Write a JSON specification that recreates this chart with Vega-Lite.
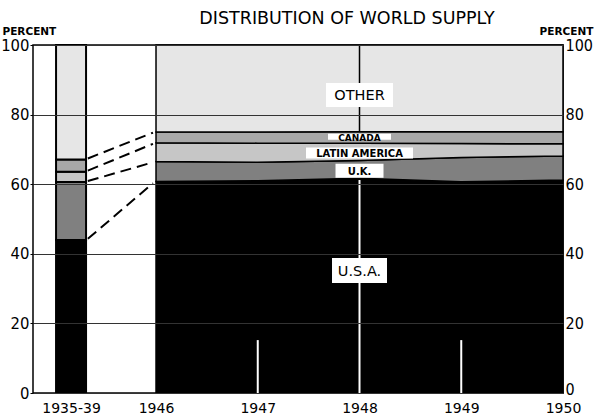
{
  "$schema": "https://vega.github.io/schema/vega-lite/v6.json",
  "width": 530,
  "height": 348,
  "autosize": "none",
  "padding": {"left": 33, "top": 45, "right": 32, "bottom": 24},
  "background": "white",
  "view": {"stroke": "black", "strokeWidth": 1.5},
  "title": {"text": "DISTRIBUTION OF WORLD SUPPLY", "font": "DejaVu Sans", "fontSize": 17.5, "fontWeight": "normal", "anchor": "middle", "dx": 49, "offset": -1, "color": "black"},
  "datasets": {
    "bar": [
      {"t": 1945.165, "region": "USA", "k": 1, "share": 44},
      {"t": 1945.165, "region": "UK", "k": 2, "share": 16.6},
      {"t": 1945.165, "region": "LatAm", "k": 3, "share": 3},
      {"t": 1945.165, "region": "Canada", "k": 4, "share": 3.5},
      {"t": 1945.165, "region": "Other", "k": 5, "share": 32.9}
    ],
    "area": [
      {"t": 1946, "region": "USA", "k": 1, "share": 60.8},
      {"t": 1946, "region": "UK", "k": 2, "share": 5.7},
      {"t": 1946, "region": "LatAm", "k": 3, "share": 5.4},
      {"t": 1946, "region": "Canada", "k": 4, "share": 3.1},
      {"t": 1946, "region": "Other", "k": 5, "share": 25},
      {"t": 1947, "region": "USA", "k": 1, "share": 61},
      {"t": 1947, "region": "UK", "k": 2, "share": 5.3},
      {"t": 1947, "region": "LatAm", "k": 3, "share": 5.5},
      {"t": 1947, "region": "Canada", "k": 4, "share": 3.2},
      {"t": 1947, "region": "Other", "k": 5, "share": 25},
      {"t": 1948, "region": "USA", "k": 1, "share": 61.7},
      {"t": 1948, "region": "UK", "k": 2, "share": 5.1},
      {"t": 1948, "region": "LatAm", "k": 3, "share": 5},
      {"t": 1948, "region": "Canada", "k": 4, "share": 3.3},
      {"t": 1948, "region": "Other", "k": 5, "share": 24.9},
      {"t": 1949, "region": "USA", "k": 1, "share": 60.7},
      {"t": 1949, "region": "UK", "k": 2, "share": 7},
      {"t": 1949, "region": "LatAm", "k": 3, "share": 4},
      {"t": 1949, "region": "Canada", "k": 4, "share": 3.4},
      {"t": 1949, "region": "Other", "k": 5, "share": 24.9},
      {"t": 1950, "region": "USA", "k": 1, "share": 61.2},
      {"t": 1950, "region": "UK", "k": 2, "share": 6.9},
      {"t": 1950, "region": "LatAm", "k": 3, "share": 3.5},
      {"t": 1950, "region": "Canada", "k": 4, "share": 3.5},
      {"t": 1950, "region": "Other", "k": 5, "share": 24.9}
    ],
    "links": [
      {"seg": "a", "t": 1945.33, "v": 44.3},
      {"seg": "a", "t": 1945.97, "v": 60.3},
      {"seg": "b", "t": 1945.33, "v": 60.9},
      {"seg": "b", "t": 1945.97, "v": 66.3},
      {"seg": "c", "t": 1945.33, "v": 63.9},
      {"seg": "c", "t": 1945.97, "v": 71.6},
      {"seg": "d", "t": 1945.33, "v": 67.4},
      {"seg": "d", "t": 1945.97, "v": 74.8}
    ],
    "whiteRules": [
      {"t": 1947, "v": 0, "v2": 15.2},
      {"t": 1948, "v": 0, "v2": 61.2},
      {"t": 1949, "v": 0, "v2": 15.2}
    ],
    "blackRules": [
      {"t": 1948, "v": 75.2, "v2": 100}
    ],
    "labels": [
      {"label": "OTHER", "t": 1948, "v": 85.6},
      {"label": "CANADA", "t": 1948, "v": 73.6},
      {"label": "LATIN AMERICA", "t": 1948, "v": 69.0},
      {"label": "U.K.", "t": 1948, "v": 63.9},
      {"label": "U.S.A.", "t": 1948, "v": 35.2}
    ]
  },
  "encoding": {
    "x": {"field": "t", "type": "quantitative", "title": null,
      "scale": {"domain": [1944.791, 1950], "nice": false, "zero": false, "padding": 0},
      "axis": {"values": [1945.165, 1946, 1947, 1948, 1949, 1950], "labelExpr": "datum.value < 1945.5 ? '1935-39' : format(datum.value, 'd')", "tickSize": 0, "domain": false, "grid": false, "labelFont": "DejaVu Sans", "labelFontSize": 14, "labelColor": "black", "labelPadding": 8, "labelFlush": false, "labelOverlap": false}}
  },
  "resolve": {"axis": {"y": "independent"}},
  "layer": [
    {
      "data": {"name": "bar"},
      "mark": {"type": "bar", "width": 30, "stroke": "black", "strokeWidth": 2},
      "encoding": {
        "y": {"field": "share", "type": "quantitative", "stack": "zero", "title": "PERCENT",
          "scale": {"domain": [0, 100], "nice": false},
          "axis": {"orient": "left", "values": [0, 20, 40, 60, 80, 100], "grid": true, "gridColor": "#333", "gridWidth": 1, "domain": false, "tickSize": 3, "tickColor": "black", "labelFont": "DejaVu Sans Condensed", "labelFontSize": 16.5, "labelColor": "black", "labelPadding": 1, "zindex": 1,
            "titleAngle": 0, "titleX": -31, "titleY": -14, "titleAlign": "left", "titleBaseline": "middle", "titleFont": "DejaVu Sans", "titleFontSize": 10.5, "titleFontWeight": "bold", "titleColor": "black"}},
        "color": {"field": "region", "type": "nominal", "legend": null,
          "scale": {"domain": ["USA", "UK", "LatAm", "Canada", "Other"], "range": ["#000000", "#808080", "#c6c6c6", "#a8a8a8", "#e6e6e6"]}},
        "order": {"field": "k", "type": "quantitative"}
      }
    },
    {
      "data": {"name": "area"},
      "mark": {"type": "area", "stroke": "black", "strokeWidth": 1.5, "opacity": 1},
      "encoding": {
        "y": {"field": "share", "type": "quantitative", "stack": "zero", "title": "PERCENT",
          "scale": {"domain": [0, 100], "nice": false},
          "axis": {"orient": "right", "values": [0, 20, 40, 60, 80, 100], "grid": false, "domain": false, "tickSize": 0, "labelFont": "DejaVu Sans Condensed", "labelFontSize": 16, "labelColor": "black", "labelPadding": 2, "zindex": 1,
            "labelOffset": {"condition": {"test": "datum.value === 0", "value": -4}, "value": 0},
            "titleAngle": 0, "titleX": 3, "titleY": -14, "titleAlign": "center", "titleBaseline": "middle", "titleFont": "DejaVu Sans", "titleFontSize": 10.5, "titleFontWeight": "bold", "titleColor": "black"}},
        "color": {"field": "region", "type": "nominal", "legend": null},
        "order": {"field": "k", "type": "quantitative"}
      }
    },
    {
      "data": {"name": "links"},
      "mark": {"type": "line", "color": "black", "strokeWidth": 2, "strokeDash": [11, 6]},
      "encoding": {
        "y": {"field": "v", "type": "quantitative", "axis": null},
        "detail": {"field": "seg"}
      }
    },
    {
      "data": {"name": "whiteRules"},
      "mark": {"type": "rule", "color": "white", "strokeWidth": 2},
      "encoding": {
        "y": {"field": "v", "type": "quantitative", "axis": null},
        "y2": {"field": "v2"}
      }
    },
    {
      "data": {"name": "blackRules"},
      "mark": {"type": "rule", "color": "black", "strokeWidth": 1.5},
      "encoding": {
        "y": {"field": "v", "type": "quantitative", "axis": null},
        "y2": {"field": "v2"}
      }
    },
    {
      "data": {"name": "labels"},
      "mark": {"type": "point", "filled": true, "size": 4, "color": "white", "opacity": 1, "strokeWidth": 0},
      "encoding": {
        "y": {"field": "v", "type": "quantitative", "axis": null},
        "shape": {"field": "label", "type": "nominal", "legend": null,
          "scale": {"domain": ["OTHER", "CANADA", "LATIN AMERICA", "U.K.", "U.S.A."],
            "range": ["M-33.5,-12H33.5V12H-33.5Z", "M-31.5,-3H31.5V3H-31.5Z", "M-53.5,-5.5H53.5V5.5H-53.5Z", "M-24,-7H24V7H-24Z", "M-27.5,-12.5H27.5V12.5H-27.5Z"]}}
      }
    },
    {
      "data": {"name": "labels"},
      "transform": [{"filter": {"field": "label", "oneOf": ["OTHER", "U.S.A."]}}],
      "mark": {"type": "text", "font": "DejaVu Sans", "fontSize": 14.5, "color": "black", "baseline": "middle", "align": "center", "dy": 1},
      "encoding": {
        "y": {"field": "v", "type": "quantitative", "axis": null},
        "text": {"field": "label"}
      }
    },
    {
      "data": {"name": "labels"},
      "transform": [{"filter": {"field": "label", "oneOf": ["LATIN AMERICA", "U.K."]}}],
      "mark": {"type": "text", "font": "DejaVu Sans", "fontSize": 10, "fontWeight": "bold", "color": "black", "baseline": "middle", "align": "center", "dy": 1},
      "encoding": {
        "y": {"field": "v", "type": "quantitative", "axis": null},
        "text": {"field": "label"}
      }
    },
    {
      "data": {"name": "labels"},
      "transform": [{"filter": {"field": "label", "equal": "CANADA"}}],
      "mark": {"type": "text", "font": "DejaVu Sans", "fontSize": 9, "fontWeight": "bold", "color": "black", "baseline": "middle", "align": "center", "dy": 1},
      "encoding": {
        "y": {"field": "v", "type": "quantitative", "axis": null},
        "text": {"field": "label"}
      }
    }
  ]
}
